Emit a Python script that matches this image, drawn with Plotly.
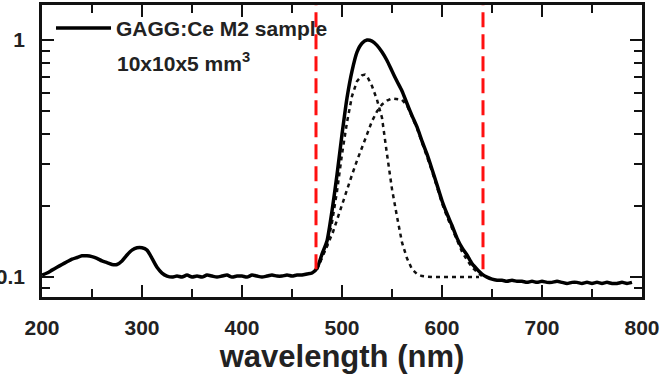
import plotly.graph_objects as go

# ---- data ----
wl_meas = [200, 205, 210, 215, 220, 225, 230, 235, 240, 245, 250, 255, 260, 265, 270, 275,
           280, 285, 290, 295, 300, 305, 310, 315, 320, 325, 330, 335, 340, 345, 350, 355,
           360, 365, 370, 375, 380, 385, 390, 395, 400, 405, 410, 415, 420, 425, 430, 435,
           440, 445, 450, 455, 460, 465, 470, 475, 480, 485, 490, 495, 500, 505, 510, 515,
           520, 525, 530, 535, 540, 545, 550, 555, 560, 565, 570, 575, 580, 585, 590, 595,
           600, 605, 610, 615, 620, 625, 630, 635, 640, 645, 650, 655, 660, 665, 670, 675,
           680, 685, 690, 695, 700, 705, 710, 715, 720, 725, 730, 735, 740, 745, 750, 755,
           760, 765, 770, 775, 780, 785, 790]
int_meas = [0.102, 0.104, 0.107, 0.110, 0.113, 0.116, 0.119, 0.121, 0.123, 0.123, 0.122, 0.120,
            0.117, 0.115, 0.113, 0.113, 0.117, 0.124, 0.130, 0.133, 0.133, 0.130, 0.120, 0.110,
            0.104, 0.101, 0.100, 0.101, 0.100, 0.102, 0.100, 0.101, 0.100, 0.102, 0.101, 0.100,
            0.101, 0.102, 0.100, 0.101, 0.101, 0.100, 0.102, 0.101, 0.100, 0.101, 0.102, 0.101,
            0.101, 0.102, 0.101, 0.102, 0.102, 0.103, 0.104, 0.109, 0.125, 0.142, 0.190, 0.270,
            0.400, 0.570, 0.740, 0.890, 0.970, 1.000, 0.990, 0.950, 0.890, 0.820, 0.740, 0.670,
            0.610, 0.540, 0.480, 0.430, 0.375, 0.330, 0.285, 0.245, 0.210, 0.185, 0.165, 0.146,
            0.133, 0.124, 0.114, 0.108, 0.103, 0.100, 0.098, 0.097, 0.097, 0.096, 0.097, 0.096,
            0.096, 0.095, 0.096, 0.095, 0.096, 0.095, 0.095, 0.096, 0.095, 0.094, 0.095, 0.095,
            0.094, 0.095, 0.094, 0.095, 0.094, 0.095, 0.094, 0.094, 0.095, 0.094, 0.095]

wl_fit1 = [475, 480, 485, 490, 495, 500, 505, 510, 515, 520, 523, 525, 530, 535, 540, 545,
           550, 555, 560, 565, 570, 575, 580, 590, 600, 610, 620, 630, 637]
int_fit1 = [0.108, 0.120, 0.135, 0.170, 0.230, 0.330, 0.450, 0.580, 0.670, 0.710, 0.715, 0.705,
            0.640, 0.560, 0.470, 0.330, 0.235, 0.180, 0.140, 0.120, 0.108, 0.103, 0.101, 0.100,
            0.100, 0.100, 0.100, 0.100, 0.100]

wl_fit2 = [474, 478, 481, 485, 491, 495, 501, 505, 510, 515, 520, 525, 530, 535, 540, 545,
           550, 555, 560, 565, 570, 575, 580, 585, 590, 595, 600, 605, 610, 615, 620, 625,
           630, 635, 640]
int_fit2 = [0.108, 0.115, 0.125, 0.135, 0.155, 0.175, 0.210, 0.235, 0.270, 0.310, 0.355, 0.400,
            0.455, 0.500, 0.535, 0.555, 0.567, 0.565, 0.560, 0.530, 0.475, 0.425, 0.370, 0.325,
            0.280, 0.240, 0.205, 0.180, 0.160, 0.142, 0.128, 0.118, 0.110, 0.105, 0.101]

cut_low = 474
cut_high = 641
cut_y = [0.108, 1.45]

y_ticks = [0.1, 1]
y_tick_text = ["0.1", "1"]
y_minor = [0.09, 0.2, 0.3, 0.4, 0.5, 0.6, 0.7, 0.8, 0.9]

FONT = "Liberation Sans, Arial, sans-serif"
TXT = "#222222"
AX = "#111111"

fig = go.Figure()
dot = dict(color="#111111", width=2.5, dash="4px,4px")
fig.add_trace(go.Scatter(x=wl_fit1, y=int_fit1, mode="lines", line=dot, showlegend=False))
fig.add_trace(go.Scatter(x=wl_fit2, y=int_fit2, mode="lines", line=dot, showlegend=False))
fig.add_trace(go.Scatter(x=wl_meas, y=int_meas, mode="lines",
                         line=dict(color="#000000", width=3.5, shape="spline", smoothing=0.6),
                         name="GAGG:Ce M2 sample"))
for xc in (cut_low, cut_high):
    fig.add_trace(go.Scatter(x=[xc, xc], y=cut_y, mode="lines", showlegend=False,
                             line=dict(color="#ff1010", width=3, dash="15px,7px")))

fig.add_annotation(xref="paper", yref="paper", x=0.122, y=0.805, xanchor="left", yanchor="middle",
                   text="10x10x5 mm<sup>3</sup>", showarrow=False,
                   font=dict(family=FONT, size=21, color=TXT, weight="bold"))

fig.update_layout(
    width=666, height=376,
    margin=dict(l=42, r=24, t=5, b=79),
    paper_bgcolor="white", plot_bgcolor="white",
    font=dict(family=FONT, color=TXT),
    showlegend=True,
    legend=dict(x=0.015, y=0.99, xanchor="left", yanchor="top", bgcolor="rgba(0,0,0,0)",
                font=dict(family=FONT, size=21, color=TXT, weight="bold"),
                itemwidth=55, tracegroupgap=0),
    xaxis=dict(range=[200, 800], tickmode="linear", tick0=200, dtick=100, automargin=False,
               ticks="inside", ticklen=12, tickwidth=2,
               tickcolor=AX, showline=True, linecolor=AX, linewidth=2.5, mirror="ticks",
               showgrid=False, zeroline=False, ticklabelstandoff=10,
               tickfont=dict(family=FONT, size=21, color=TXT, weight="bold"),
               minor=dict(dtick=50, ticks="inside", ticklen=8, tickwidth=2, tickcolor=AX,
                          showgrid=False),
               title=dict(text="wavelength (nm)", standoff=4,
                          font=dict(family=FONT, size=31, color=TXT, weight="bold"))),
    yaxis=dict(type="log", range=[-1.084, 0.148], tickvals=y_ticks, ticktext=y_tick_text,
               automargin=False,
               ticks="inside", ticklen=12, tickwidth=2, tickcolor=AX, showline=True,
               linecolor=AX, linewidth=2.5, mirror="ticks", showgrid=False, zeroline=False,
               ticklabelstandoff=10,
               tickfont=dict(family=FONT, size=21, color=TXT, weight="bold"),
               minor=dict(tickvals=y_minor, ticks="inside", ticklen=8, tickwidth=2, tickcolor=AX,
                          showgrid=False)),
)

fig.write_html("out.html")
